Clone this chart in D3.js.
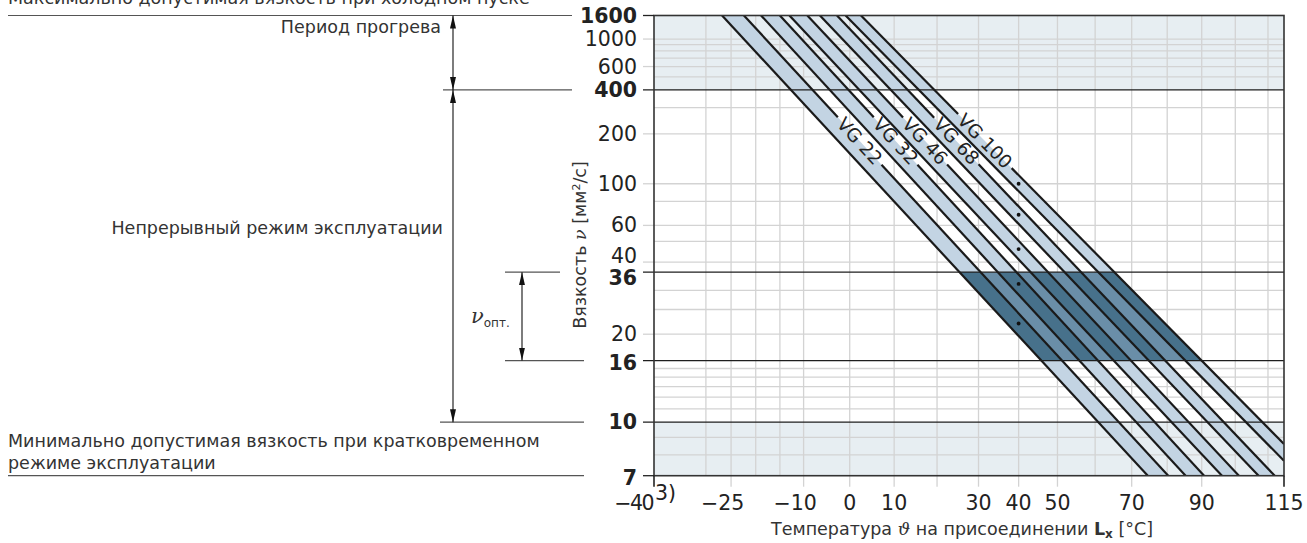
<!DOCTYPE html>
<html lang="ru">
<head>
<meta charset="UTF-8">
<title>Вязкость</title>
<style>
  body { margin: 0; background: #fff; }
  svg { display: block; font-family: "DejaVu Sans", sans-serif; }
  .tick-label { font-size: 20.5px; fill: #222; }
  .note { font-size: 17.5px; fill: #333; }
</style>
</head>
<body>
<svg id="chart" width="1307" height="543"></svg>
<script src="https://d3js.org/d3.v7.min.js"></script>
<script>
// --- data ---
const tempLabels = [-40, -25, -10, 0, 10, 30, 40, 50, 70, 90, 115];
const tempGrid = [-30, -25, -20, -15, -10, 0, 10, 20, 30, 40, 50, 60, 70, 80, 90, 100, 110];
const tempTickMarks = [-25, -10, 0, 10, 20, 30, 40, 50, 70, 90];
const viscLabels = [1600, 1000, 600, 400, 200, 100, 60, 40, 36, 20, 16, 10, 7];
const viscBold = [1600, 400, 36, 16, 10, 7];
const viscGrid = [8, 9, 11, 12, 13, 14, 15, 20, 25, 30, 40, 50, 60, 80, 100, 200, 300, 500, 600, 700, 800, 900, 1000];
const limitLines = [400, 36, 16, 10];

const vgNames = ["VG 22", "VG 32", "VG 46", "VG 68", "VG 100"];
const vgNominal = [22, 32, 46, 68, 100];          // точки при 40 °C
// нижняя граница класса: [температура, вязкость] в начале и в конце
const vgLowStart = [[-26.8, 1600], [-18.9, 1600], [-13.0, 1600], [-6.5, 1600], [-0.9, 1600]];
const vgLowEnd = [[74.5, 7], [85.3, 7], [96.0, 7], [107.1, 7], [115, 7.7]];
// верхняя граница класса
const vgHighStart = [[-22.4, 1600], [-15.0, 1600], [-9.2, 1600], [-2.8, 1600], [2.5, 1600]];
const vgHighEnd = [[80.3, 7], [90.7, 7], [101.1, 7], [112.1, 7], [115, 8.6]];
const labelVisc = 180;

// --- scales (Ubbelohde-Walther) ---
const x0 = 654, x1 = 1284, yTop = 15.5, yBot = 475.7;
const xK = d3.scaleLog().domain([233.15, 388.15]).range([x0, x1]);
const X = t => xK(t + 273.15);
const yK = d3.scaleLog().domain([Math.log10(7.7), Math.log10(1600.7)]).range([yBot, yTop]);
const Y = v => yK(Math.log10(v + 0.7));

const svg = d3.select("#chart");
const defs = svg.append("defs");
defs.append("clipPath").attr("id", "plotClip")
  .append("rect").attr("x", x0).attr("y", yTop).attr("width", x1 - x0).attr("height", yBot - yTop);
defs.append("clipPath").attr("id", "optClip")
  .append("rect").attr("x", x0).attr("y", Y(36)).attr("width", x1 - x0).attr("height", Y(16) - Y(36));
defs.append("marker").attr("id", "arr")
  .attr("viewBox", "0 0 13 6").attr("refX", 13).attr("refY", 3)
  .attr("markerWidth", 13).attr("markerHeight", 6).attr("markerUnits", "userSpaceOnUse")
  .attr("orient", "auto-start-reverse")
  .append("path").attr("d", "M0,0 L13,3 L0,6 Z").attr("fill", "#111");

const pt = d => [X(d[0]), Y(d[1])];

// фоновые зоны
svg.append("rect").attr("x", x0).attr("y", Y(1600)).attr("width", x1 - x0).attr("height", Y(400) - Y(1600)).attr("fill", "#e7eef2");
svg.append("rect").attr("x", x0).attr("y", Y(10)).attr("width", x1 - x0).attr("height", Y(7) - Y(10)).attr("fill", "#e7eef2");

// сетка
const grid = svg.append("g").attr("stroke", "#d3d3d3").attr("stroke-width", 1.3);
tempGrid.forEach(t => grid.append("line").attr("x1", X(t)).attr("x2", X(t)).attr("y1", yTop).attr("y2", yBot));
viscGrid.forEach(v => grid.append("line").attr("x1", x0).attr("x2", x1).attr("y1", Y(v)).attr("y2", Y(v)));
// засечки осей
tempTickMarks.forEach(t => grid.append("line").attr("x1", X(t)).attr("x2", X(t)).attr("y1", yBot).attr("y2", yBot + 11));
viscLabels.filter(v => !viscBold.includes(v)).forEach(v =>
  grid.append("line").attr("x1", x0 - 11).attr("x2", x0).attr("y1", Y(v)).attr("y2", Y(v)));

const plot = svg.append("g").attr("clip-path", "url(#plotClip)");

function bandPoly(i) {
  const pts = [pt(vgLowStart[i]), pt(vgHighStart[i]), pt(vgHighEnd[i])];
  if (vgHighEnd[i][0] === 115 && vgLowEnd[i][0] !== 115) pts.push(pt([115, 7]));
  pts.push(pt(vgLowEnd[i]));
  return pts;
}
// светлые полосы классов
vgNames.forEach((n, i) => {
  plot.append("polygon").attr("points", bandPoly(i).join(" ")).attr("fill", "#c3d4e3");
});
// оптимальная зона
const last = vgNames.length - 1;
const envelope = [pt(vgLowStart[0]), pt(vgHighStart[last]), pt(vgHighEnd[last]), pt([115, 7]), pt(vgLowEnd[0])];
const opt = plot.append("g").attr("clip-path", "url(#optClip)");
opt.append("polygon").attr("points", envelope.join(" ")).attr("fill", "#6a8ea8");
vgNames.forEach((n, i) => {
  opt.append("polygon").attr("points", bandPoly(i).join(" ")).attr("fill", "#47718b");
});

// граничные линии
limitLines.forEach(v => {
  svg.append("line").attr("x1", x0 - 11).attr("x2", x1).attr("y1", Y(v)).attr("y2", Y(v))
    .attr("stroke", "#1e1e1e").attr("stroke-width", 1.3);
});

// линии классов
const lineG = plot.append("g").attr("stroke", "#1a1a1a").attr("stroke-width", 2.2).attr("fill", "none");
const labelG = svg.append("g");
vgNames.forEach((name, i) => {
  const a = pt(vgLowStart[i]), b = pt(vgLowEnd[i]);
  lineG.append("line").attr("x1", a[0]).attr("y1", a[1]).attr("x2", b[0]).attr("y2", b[1]);

  const p = pt(vgHighStart[i]), q = pt(vgHighEnd[i]);
  const yL = Y(labelVisc);
  const t = (yL - p[1]) / (q[1] - p[1]);
  const c = [p[0] + t * (q[0] - p[0]), yL];
  const len = Math.hypot(q[0] - p[0], q[1] - p[1]);
  const u = [(q[0] - p[0]) / len, (q[1] - p[1]) / len];
  const ang = Math.atan2(u[1], u[0]) * 180 / Math.PI;

  const txt = labelG.append("text")
    .attr("transform", `translate(${c[0]},${c[1]}) rotate(${ang})`)
    .attr("text-anchor", "middle").attr("dominant-baseline", "central")
    .attr("font-size", 18.5).attr("fill", "#222").text(name);
  const half = txt.node().getComputedTextLength() / 2 + 4;
  lineG.append("line").attr("x1", p[0]).attr("y1", p[1])
    .attr("x2", c[0] - u[0] * half).attr("y2", c[1] - u[1] * half);
  lineG.append("line").attr("x1", c[0] + u[0] * half).attr("y1", c[1] + u[1] * half)
    .attr("x2", q[0]).attr("y2", q[1]);
});

// номинальные точки при 40 °C
vgNominal.forEach(v => {
  svg.append("circle").attr("cx", X(40)).attr("cy", Y(v)).attr("r", 1.9).attr("fill", "#111");
});

// рамка
svg.append("rect").attr("x", x0).attr("y", yTop).attr("width", x1 - x0).attr("height", yBot - yTop)
  .attr("fill", "none").attr("stroke", "#333").attr("stroke-width", 1.6);
svg.append("line").attr("x1", x0 - 11).attr("x2", x0).attr("y1", Y(1600)).attr("y2", Y(1600)).attr("stroke", "#222").attr("stroke-width", 1.3);
svg.append("line").attr("x1", x0 - 11).attr("x2", x0).attr("y1", Y(7)).attr("y2", Y(7)).attr("stroke", "#222").attr("stroke-width", 1.3);
[-40, 115].forEach(t => svg.append("line").attr("x1", X(t)).attr("x2", X(t)).attr("y1", yBot).attr("y2", yBot + 11)
  .attr("stroke", "#222").attr("stroke-width", 1.6));

// подписи оси y
const yShift = { 40: -6, 36: 6, 16: 2, 7: 2 };
viscLabels.forEach(v => {
  svg.append("text").attr("class", "tick-label")
    .attr("x", 637).attr("y", Y(v) + (yShift[v] || 0))
    .attr("text-anchor", "end").attr("dominant-baseline", "central")
    .attr("font-weight", viscBold.includes(v) ? "bold" : "normal")
    .text(v);
});

// подписи оси x
tempLabels.forEach(t => {
  const el = svg.append("text").attr("class", "tick-label").attr("y", 510);
  if (t === -40) {
    el.attr("x", X(t) - 1).attr("text-anchor", "end").attr("letter-spacing", -1.5).text("−40");
    svg.append("text").attr("class", "tick-label").attr("x", X(t) + 1).attr("y", 500)
      .attr("font-size", 13).text("3)");
  } else {
    el.attr("x", X(t) + (t < 0 ? -8.4 : 0)).attr("text-anchor", "middle")
      .text(t < 0 ? "−" + Math.abs(t) : t);
  }
});

// название оси x
const xt = svg.append("text").attr("class", "note").attr("x", 962).attr("y", 535).attr("text-anchor", "middle");
xt.append("tspan").text("Температура ");
xt.append("tspan").attr("font-family", "DejaVu Serif").attr("font-style", "italic").text("ϑ");
xt.append("tspan").text(" на присоединении ");
xt.append("tspan").attr("font-weight", "bold").text("L");
xt.append("tspan").attr("font-weight", "bold").attr("font-size", 12).attr("dy", 3).text("x");
xt.append("tspan").attr("dy", -3).text(" [°C]");

// название оси y
const yt = svg.append("text").attr("class", "note").attr("transform", "translate(586,245) rotate(-90)")
  .attr("text-anchor", "middle");
yt.append("tspan").text("Вязкость ");
yt.append("tspan").attr("font-family", "DejaVu Serif").attr("font-style", "italic").text("ν");
yt.append("tspan").text(" [мм");
yt.append("tspan").attr("font-size", 11).attr("dy", -6).text("2");
yt.append("tspan").attr("dy", 6).text("/с]");

// левые пояснения
const ann = svg.append("g").attr("stroke", "#555").attr("stroke-width", 1.2);
[[1600, 8, 572], [400, 443, 572], [36, 505, 560], [16, 505, 584], [10, 440, 584], [7, 8, 584]]
  .forEach(d => ann.append("line").attr("x1", d[1]).attr("x2", d[2]).attr("y1", Y(d[0])).attr("y2", Y(d[0])));
const arrows = svg.append("g").attr("stroke", "#111").attr("stroke-width", 1.1);
[[453, 1600, 400], [453, 400, 10], [522, 36, 16]].forEach(d => {
  arrows.append("line").attr("x1", d[0]).attr("x2", d[0]).attr("y1", Y(d[1])).attr("y2", Y(d[2]))
    .attr("marker-start", "url(#arr)").attr("marker-end", "url(#arr)");
});

svg.append("text").attr("class", "note").attr("x", 8).attr("y", 4).text("Максимально допустимая вязкость при холодном пуске");
svg.append("text").attr("class", "note").attr("x", 441).attr("y", 33).attr("text-anchor", "end").text("Период прогрева");
svg.append("text").attr("class", "note").attr("x", 443).attr("y", 234).attr("text-anchor", "end").text("Непрерывный режим эксплуатации");
svg.append("text").attr("class", "note").attr("x", 8).attr("y", 447).text("Минимально допустимая вязкость при кратковременном");
svg.append("text").attr("class", "note").attr("x", 8).attr("y", 469).text("режиме эксплуатации");
const vo = svg.append("text").attr("class", "note").attr("x", 471).attr("y", 323);
vo.append("tspan").attr("font-family", "DejaVu Serif").attr("font-style", "italic").attr("font-size", 21).text("ν");
vo.append("tspan").attr("font-size", 12).attr("dy", 4).text("опт.");
</script>
</body>
</html>
